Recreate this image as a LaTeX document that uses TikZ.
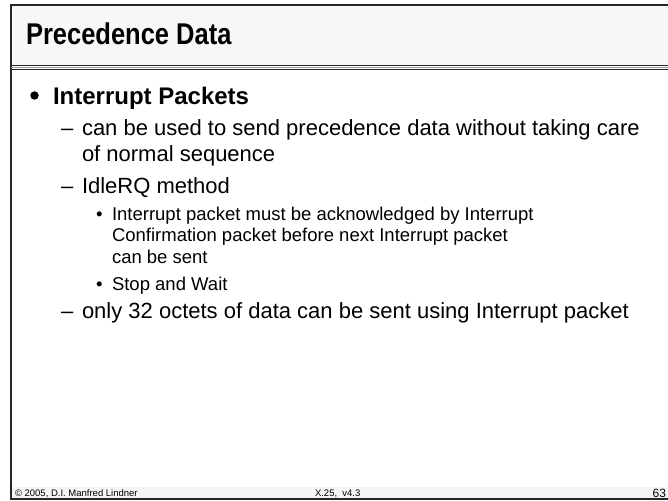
\documentclass[tikz,border=0pt]{standalone}
\usepackage{fontspec}
\setmainfont{Liberation Sans}
\begin{document}
\begin{tikzpicture}[x=1pt,y=-1pt,
  txt/.style={anchor=base west,inner sep=0pt,outer sep=0pt},
  lvlone/.style={txt,font=\fontsize{24}{28}\selectfont\bfseries},
  lvltwo/.style={txt,font=\fontsize{22}{25}\selectfont},
  lvlthree/.style={txt,font=\fontsize{18.5}{22}\selectfont},
  foot/.style={txt,font=\fontsize{9.5}{11}\selectfont},
  dot/.style={circle,fill=black,inner sep=0pt,minimum size=8.5pt},
  border/.style={black!85,line width=1.6pt}]
\useasboundingbox (0,0) rectangle (668,500);
\fill[white] (0,0) rectangle (668,500);
% title and footer bands
\fill[black!3] (11,5) rectangle (668,65);
\fill[black!4] (11,487) rectangle (668,498);
\draw[border] (11,4.8) -- (668,4.8);
\draw[border] (10.8,4) -- (10.8,499.5);
\draw[border] (10,498.8) -- (668,498.8);
\draw[black!85,line width=1.4pt] (11,65.6) -- (668,65.6);
\draw[black!40,line width=1.3pt] (11,67.7) -- (668,67.7);
\draw[black!85,line width=1.4pt] (11,69.8) -- (668,69.8);
% title
\node[txt,font=\fontsize{30}{34}\selectfont\bfseries] (title) at (26,45) {\scalebox{0.85}[1]{Precedence Data}};
% level 1
\node[dot] (b1) at (34.5,95.5) {};
\node[lvlone] (t1) at (53,104) {Interrupt Packets};
% level 2
\node[lvltwo] (d1) at (61,135) {–};
\node[lvltwo] (t2a) at (82,135) {can be used to send precedence data without taking care};
\node[lvltwo] (t2b) at (82,161) {of normal sequence};
\node[lvltwo] (d2) at (61,193.5) {–};
\node[lvltwo] (t3) at (82,193.5) {IdleRQ method};
% level 3
\node[lvlthree] (b3a) at (96,220.5) {•};
\node[lvlthree] (t4a) at (112,220.5) {Interrupt packet must be acknowledged by Interrupt};
\node[lvlthree] (t4b) at (112,241.5) {Confirmation packet before next Interrupt packet};
\node[lvlthree] (t4c) at (112,263) {can be sent};
\node[lvlthree] (b3b) at (96,290) {•};
\node[lvlthree] (t5) at (112,290) {Stop and Wait};
% level 2 again
\node[lvltwo] (d3) at (61,318.5) {–};
\node[lvltwo] (t6) at (82,318.5) {only 32 octets of data can be sent using Interrupt packet};
% footer
\node[foot] (f1) at (15,496.5) {© 2005, D.I. Manfred Lindner};
\node[foot] (f2) at (315,496.5) {X.25,\ \ v4.3};
\node[txt,anchor=base east,font=\fontsize{12}{14}\selectfont] (f3) at (666,497.5) {63};
\end{tikzpicture}
\end{document}
